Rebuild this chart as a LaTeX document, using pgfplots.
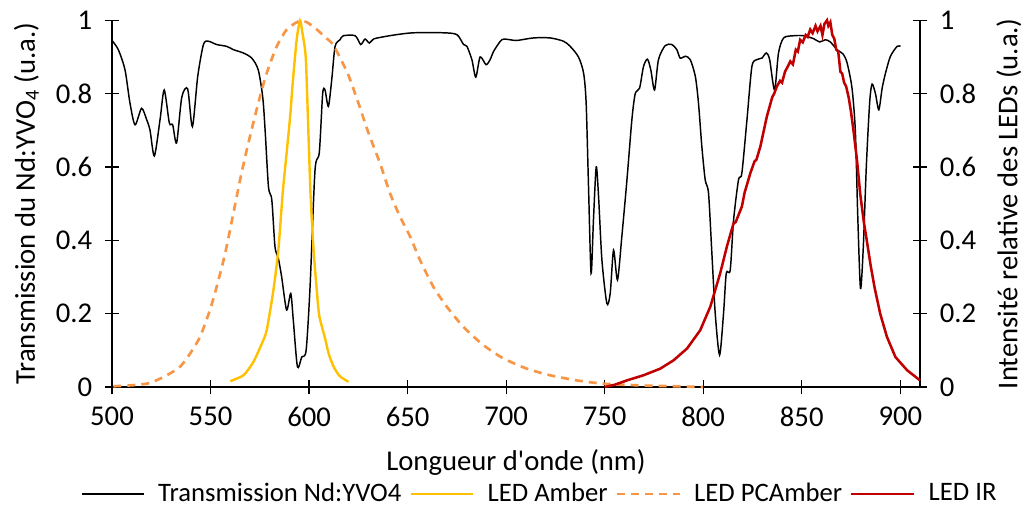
\documentclass[border=0pt]{standalone}
\usepackage{pgfplots}
\pgfplotsset{compat=1.18}
\usepackage{fontspec}
\setmainfont{Carlito}
\definecolor{amber}{HTML}{FFC000}
\definecolor{pcamber}{HTML}{F79646}
\definecolor{ledir}{HTML}{C00000}

\pgfplotstableread{
x y
500 0.945
503.2 0.92
506.6 0.865
509.1 0.775
511.7 0.715
515 0.76
517.6 0.729
519.3 0.70
521.5 0.63
524.4 0.73
526.5 0.81
529.1 0.72
530.8 0.715
532.8 0.666
535.4 0.79
538.4 0.813
540.8 0.71
543.5 0.847
546.4 0.934
548.9 0.943
553.1 0.934
558.2 0.929
561.6 0.92
566.6 0.911
570.9 0.897
574.2 0.865
576.5 0.79
577.7 0.70
579.4 0.546
581.1 0.51
582.7 0.383
584.4 0.351
586.1 0.30
588.6 0.21
590.7 0.255
592.0 0.182
594.1 0.055
596.3 0.082
598.5 0.10
600.5 0.273
603 0.59
605.2 0.64
606.9 0.80
608.1 0.81
609.8 0.765
611.5 0.838
613.2 0.929
615.7 0.947
617.4 0.958
623.4 0.958
626.2 0.934
628.4 0.949
630.6 0.938
632.7 0.949
637.7 0.955
644.5 0.961
653 0.966
668.2 0.966
675 0.961
678.4 0.934
680.1 0.929
682.6 0.893
684.6 0.845
686.8 0.90
689.8 0.879
691.9 0.893
693.6 0.915
697.8 0.947
702 0.947
705.4 0.945
713.9 0.952
722.3 0.952
729.1 0.943
732.5 0.929
736.7 0.90
739.3 0.856
740.6 0.774
741.8 0.546
743.1 0.31
744.3 0.455
745.7 0.60
746.9 0.519
748.6 0.346
751.1 0.228
752.8 0.255
754.5 0.373
756.5 0.292
758.7 0.41
761.3 0.565
763.8 0.729
765.5 0.80
767.7 0.815
769.7 0.874
771.7 0.894
773.4 0.865
775.3 0.81
777.3 0.893
780.7 0.931
784.1 0.934
786.6 0.92
788.3 0.897
790.9 0.902
793.4 0.893
796 0.847
797.6 0.774
799.3 0.656
801 0.565
802.7 0.528
804.4 0.364
806.1 0.20
808.3 0.087
810.3 0.20
811.7 0.31
813.7 0.319
815.4 0.455
817.9 0.565
819.6 0.583
822.2 0.729
824.7 0.874
827.3 0.893
829.8 0.897
832 0.911
833.7 0.893
836.2 0.81
838.2 0.911
840.8 0.952
845.9 0.958
851 0.958
856 0.95
859.1 0.941
862 0.947
864.5 0.941
867.9 0.92
871 0.908
873 0.884
875.5 0.815
877.2 0.697
878.4 0.469
879.8 0.269
881.2 0.378
882.8 0.606
884.5 0.779
885.7 0.826
887.4 0.80
889.1 0.756
890.8 0.815
892.5 0.856
895 0.902
898.4 0.929
900.1 0.929
}\transmission

\pgfplotstableread{
x y
560 0.016
566.7 0.032
571.7 0.068
576 0.118
578.5 0.155
581.9 0.264
584.4 0.373
586.6 0.528
588.6 0.638
590.4 0.738
591.7 0.829
593.7 0.947
595.4 1.0
596.5 0.97
598.3 0.90
599.5 0.72
600.7 0.53
602.2 0.38
603.5 0.29
605 0.20
606.5 0.165
608 0.135
610 0.09
612.5 0.055
615.5 0.03
620 0.014
}\amberled

\pgfplotstableread{
x y
500.7 0.002
510.8 0.005
519.3 0.011
527.8 0.032
534.5 0.055
539.6 0.091
544.7 0.137
549.7 0.21
553.1 0.273
557.4 0.364
561.6 0.474
565 0.565
568.4 0.647
571.7 0.72
575.1 0.792
578.5 0.856
583.6 0.929
588.7 0.975
594.6 0.997
598.8 0.995
603.9 0.975
608 0.955
612 0.935
616 0.895
620 0.85
625 0.775
630 0.695
636 0.61
641.1 0.528
646.2 0.464
651.3 0.41
656.3 0.346
663.1 0.273
669.9 0.219
678.3 0.164
688.5 0.114
698.6 0.078
710.5 0.05
722.3 0.032
735.9 0.018
749.4 0.009
769.7 0.004
785 0.002
800 0.0
}\pcamberled

\pgfplotstableread{
x y
750 0.0
755 0.006
761.3 0.018
769.7 0.032
778.2 0.05
785 0.073
791.8 0.105
798.5 0.155
803.6 0.219
808.6 0.31
812 0.383
814.5 0.43
815.4 0.446
816.5 0.45
819.6 0.492
821 0.53
823.9 0.583
826 0.615
827 0.62
829 0.656
832.3 0.738
835 0.79
836 0.80
837.4 0.82
839 0.835
840 0.83
841.5 0.86
843 0.875
844.2 0.888
845.5 0.88
847 0.92
848 0.915
849.2 0.947
850.5 0.94
852 0.96
853 0.955
854.3 0.975
855.5 0.965
857 0.985
858 0.97
859.5 0.985
860.5 0.96
861.5 0.99
862.8 1.0
863.5 0.985
864.5 0.995
865.5 0.96
866.5 0.95
867.5 0.92
868.5 0.915
869.6 0.86
870.5 0.855
871.5 0.83
872.5 0.82
873.8 0.79
875 0.75
876.3 0.697
878 0.62
879.7 0.525
881.5 0.45
883.1 0.396
885 0.33
887 0.27
889.8 0.20
893.2 0.137
897.5 0.082
903.4 0.046
910 0.018
}\irled

\begin{document}
\fontsize{21.5}{25}\selectfont
\begin{tikzpicture}
\pgfplotsset{
  common/.style={
    scale only axis, width=606pt, height=275pt,
    xmin=500, xmax=910, ymin=0, ymax=1,
    ytick={0,0.2,0.4,0.6,0.8,1},
    tick style={black, line width=0.9pt},
    major tick length=11pt, tick align=center,
    axis line style={black, line width=1.1pt, -},
    /pgf/number format/assume math mode=true,
    clip=false,
  }
}
\begin{axis}[common, name=main,
  axis x line*=bottom, axis y line*=left,
  xtick={500,550,...,900},
  xticklabel style={yshift=-2pt},
  yticklabel style={xshift=-2pt},
  xlabel={Longueur d\textquotesingle onde (nm)},
  xlabel style={at={(axis description cs:0.5,-0.205)}, anchor=center, inner sep=0pt},
  ylabel={Transmission du Nd:YVO\textsubscript{4} (u.a.)},
  ylabel style={at={(axis description cs:-0.106,0.5)}, anchor=center, inner sep=0pt},
]
\addplot[black, line width=1.1pt, smooth, tension=0.45] table[x=x,y=y] {\transmission};
\end{axis}
\begin{axis}[common,
  axis x line=none, axis y line*=right,
  yticklabel style={xshift=2pt},
  ylabel={Intensité relative des LEDs (u.a.)},
  ylabel style={at={(axis description cs:1.11,0.5)}, anchor=center, inner sep=0pt},
  legend style={at={(0.5,-0.292)}, xshift=18pt, anchor=center, draw=none, fill=none,
    font=\fontsize{20}{23}\selectfont,
    nodes={inner ysep=0pt},
    legend columns=4, /tikz/every even column/.append style={column sep=4pt},
    /tikz/every odd column/.append style={column sep=8pt}},
  legend image code/.code={\draw[#1] (0cm,0cm) -- (1.65cm,0cm);},
]
\addlegendimage{black, line width=1.1pt}
\addlegendentry{Transmission Nd:YVO4}
\addplot[amber, line width=1.8pt, smooth, tension=0.4] table[x=x,y=y] {\amberled};
\addlegendentry{LED Amber}
\addplot[pcamber, line width=2pt, dash pattern=on 6pt off 4.5pt, smooth, tension=0.4] table[x=x,y=y] {\pcamberled};
\addlegendentry{LED PCAmber}
\addplot[ledir, line width=1.9pt] table[x=x,y=y] {\irled};
\addlegendentry{LED IR}
\end{axis}
\path (main.south west) ++(-84pt,-84pt) rectangle ++(771pt,374.25pt);
\end{tikzpicture}
\end{document}
